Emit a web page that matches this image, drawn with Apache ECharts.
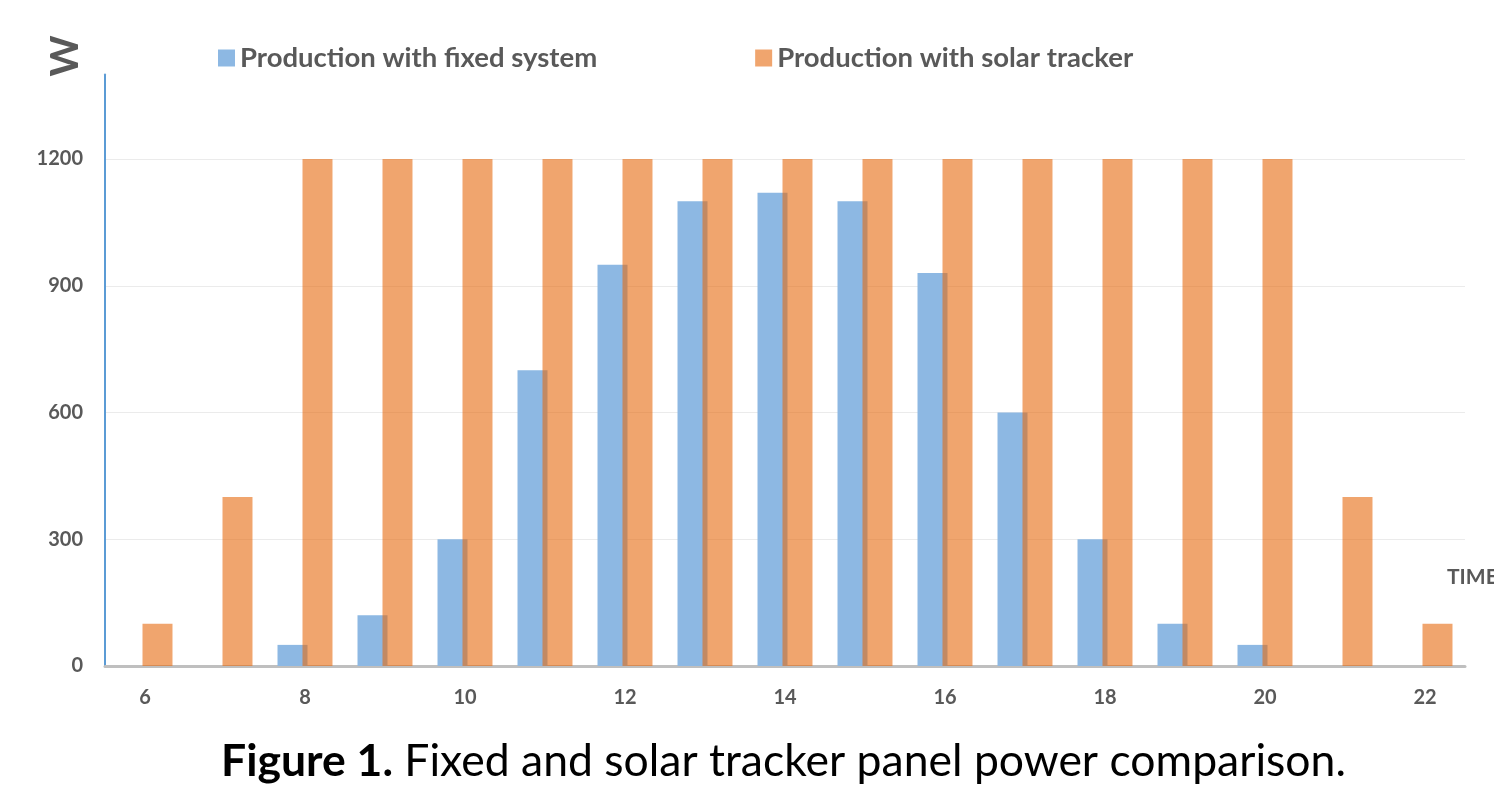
<!DOCTYPE html>
<html>
<head>
<meta charset="utf-8">
<script src="https://cdn.jsdelivr.net/npm/echarts@6/dist/echarts.min.js"></script>
<style>
  html, body { margin: 0; padding: 0; background: #fff; }
  #chart { width: 1494px; height: 810px; }
</style>
</head>
<body>
<div id="chart"></div>
<script>
const hours = ['6','7','8','9','10','11','12','13','14','15','16','17','18','19','20','21','22'];
const fixedSystem = [0, 0, 50, 120, 300, 700, 950, 1100, 1120, 1100, 930, 600, 300, 100, 50, 0, 0];
const solarTracker = [100, 400, 1200, 1200, 1200, 1200, 1200, 1200, 1200, 1200, 1200, 1200, 1200, 1200, 1200, 400, 100];
const seriesNames = ['Production with fixed system', 'Production with solar tracker'];
const yAxisName = 'W';
const xAxisName = 'TIME';
const captionBold = 'Figure 1.';
const captionText = 'Fixed and solar tracker panel power comparison.';

const chart = echarts.init(document.getElementById('chart'), null, { renderer: 'canvas' });
const grey = '#595959';
const font = 'Lato, "Open Sans", sans-serif';

chart.setOption({
  animation: false,
  backgroundColor: '#ffffff',
  title: {
    text: '{b|' + captionBold + '}{r| ' + captionText + '}',
    left: 221,
    top: 739,
    padding: 0,
    textStyle: {
      rich: {
        b: { fontFamily: font, fontWeight: 'bold', fontSize: 44.5, color: '#000' },
        r: { fontFamily: font, fontWeight: 'normal', fontSize: 44.5, color: '#000' }
      }
    }
  },
  legend: {
    left: 218,
    top: 44,
    padding: 0,
    itemWidth: 17,
    itemHeight: 17,
    itemGap: 158,
    icon: 'rect',
    textStyle: { fontFamily: font, fontWeight: 'bold', fontSize: 27.5, color: grey },
    data: seriesNames
  },
  graphic: [
    {
      type: 'text',
      x: 65, y: 56,
      rotation: Math.PI / 2,
      style: { text: yAxisName, align: 'center', verticalAlign: 'middle',
               font: 'bold 39px Lato, "Open Sans", sans-serif', fill: grey }
    },
    {
      type: 'text',
      x: 1447, y: 577,
      style: { text: xAxisName, align: 'left', verticalAlign: 'middle',
               font: 'bold 21px Lato, "Open Sans", sans-serif', fill: grey }
    }
  ],
  grid: { left: 105, right: 29, top: 74.5, bottom: 144, containLabel: false },
  xAxis: {
    type: 'category',
    data: hours,
    boundaryGap: true,
    axisLine: { show: true, lineStyle: { color: '#BFBFBF', width: 3 } },
    axisTick: { show: false },
    axisLabel: { interval: 1, margin: 22, fontFamily: font, fontWeight: 'bold', fontSize: 20, color: grey },
    splitLine: { show: false }
  },
  yAxis: {
    type: 'value',
    min: 0,
    max: 1400,
    interval: 300,
    axisLine: { show: true, lineStyle: { color: '#5B9BD5', width: 2 } },
    axisTick: { show: false },
    axisLabel: { margin: 22, fontFamily: font, fontWeight: 'bold', fontSize: 20, color: grey,
                 showMaxLabel: false, formatter: function (v) { return String(v); } },
    splitLine: { show: true, showMaxLine: false, lineStyle: { color: '#EBEBEB', width: 1 } }
  },
  series: [
    {
      name: seriesNames[0],
      type: 'bar',
      data: fixedSystem,
      barWidth: 30,
      barGap: '-16.7%',
      itemStyle: { color: '#8DB8E3' }
    },
    {
      name: seriesNames[1],
      type: 'bar',
      data: solarTracker,
      barWidth: 30,
      barGap: '-16.7%',
      itemStyle: { color: 'rgba(230,105,13,0.6)' }
    }
  ]
});
</script>
</body>
</html>
